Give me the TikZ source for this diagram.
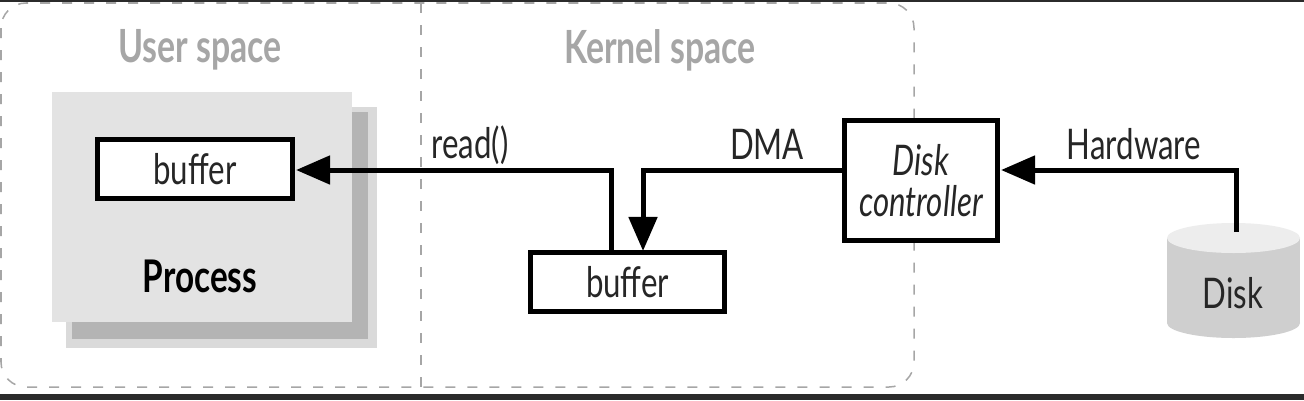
\documentclass[tikz,border=0pt]{standalone}
\usepackage{fontspec}
\setmainfont{Lato}[FakeStretch=0.74]
\usetikzlibrary{arrows.meta}
\definecolor{bar}{HTML}{2B2B2B}
\definecolor{spacegray}{HTML}{A6A6A6}
\definecolor{procgray}{HTML}{E3E3E3}
\definecolor{shadowgray}{HTML}{B4B4B4}
\definecolor{shadowsoft}{HTML}{DADADA}
\definecolor{diskbody}{HTML}{CFCFCF}
\definecolor{diskend}{HTML}{EDEDED}
\begin{document}
\begin{tikzpicture}[x=0.01cm, y=-0.01cm, font=\fontsize{12}{13}\selectfont, text=black!85, line join=miter, >={Stealth[inset=0pt,length=0.34cm,width=0.28cm]}]
	\tikzset{
		boite/.style={draw=black, fill=white, line width=0.05cm, inner sep=0pt, outer sep=0pt},
		fleche/.style={draw=black, line width=0.05cm},
		tirets/.style={draw=spacegray, line width=0.015cm, dash pattern=on 0.1cm off 0.12cm},
		titre/.style={text=spacegray, font=\fontsize{13}{14}\selectfont\bfseries},
	}
	\useasboundingbox (0,0) rectangle (1304,400);
	\fill[white] (0,0) rectangle (1304,400);
	% cadres en tirets
	\draw[tirets, rounded corners=0.25cm] (1,3) rectangle (914,387);
	\draw[tirets] (421,3)--(421,387);
	\fill[bar] (0,0) rectangle (1304,2);
	\fill[bar] (0,394) rectangle (1304,400);
	\node[titre] (user) at (200,50){User space};
	\node[titre] (kernel) at (660,50){Kernel space};
	% processus
	\fill[shadowsoft] (66,107) rectangle (377,348);
	\fill[shadowgray] (72,112) rectangle (368,339);
	\fill[procgray] (52,92) rectangle (352,322);
	\node[boite, minimum width=1.94cm, minimum height=0.59cm] (bufuser) at (195,169){buffer};
	\node[text=black, font=\fontsize{12.8}{14}\selectfont\bfseries] (process) at (200,276){Process};
	% tampon noyau et controleur
	\node[boite, minimum width=1.93cm, minimum height=0.58cm] (bufkernel) at (627.5,282){buffer};
	\node[boite, minimum width=1.52cm, minimum height=1.19cm, align=center, font=\fontsize{12}{11.5}\selectfont\itshape] (ctrl) at (921,180.5){Disk\\controller};
	% disque
	\fill[diskbody] (1167,238) rectangle (1300,323);
	\fill[diskbody] (1233.5,323) ellipse[x radius=66.5, y radius=15];
	\fill[diskend] (1233.5,238) ellipse[x radius=66.5, y radius=15];
	\node (disk) at (1233,293){Disk};
	\coordinate (tap) at (1236,232);
	\coordinate (tapkernel) at (611,252);
	% connexions
	\draw[fleche, ->, shorten >=0.04cm] (tapkernel)--(611,170)--(bufuser.east|-0,170);
	\draw[fleche, ->, shorten >=0.02cm] (ctrl.west|-0,170)--(643,170)--(643,0|-bufkernel.north);
	\draw[fleche, ->, shorten >=0.04cm] (tap)--(1236,170)--(ctrl.east|-0,170);
	\node (read) at (470,145){read()};
	\node (dma) at (767,144){DMA};
	\node (hw) at (1134,144){Hardware};
\end{tikzpicture}
\end{document}
